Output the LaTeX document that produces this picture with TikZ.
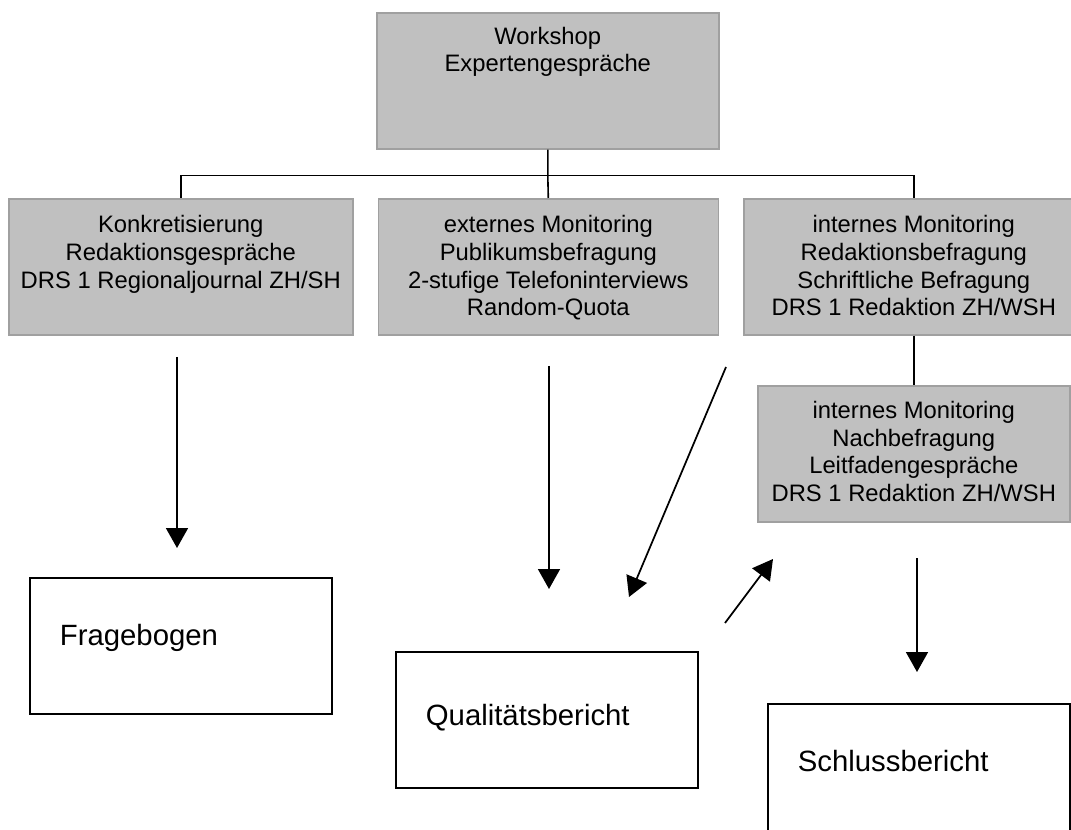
\documentclass[tikz,border=0pt]{standalone}
\usepackage{fontspec}
\setmainfont{Liberation Sans}
\usetikzlibrary{positioning, arrows.meta}
\definecolor{boxgray}{HTML}{C0C0C0}
\definecolor{edgegray}{HTML}{A0A0A0}
\tikzset{graybox/.style={draw=edgegray, fill=boxgray, line width=1.2pt, minimum height=102pt, inner sep=0pt}, % shaded method boxes
boxtext/.style={align=center, inner sep=0pt, font=\fontsize{17.85pt}{20.7pt}\selectfont}, % text hangs from the top of a box
whitebox/.style={draw, line width=1.3pt, align=left, text width=181.5pt, inner xsep=22.5pt, inner ysep=0pt, text height=51pt, text depth=51pt, font=\fontsize{22pt}{26pt}\selectfont}, % report boxes
link/.style={line width=1.2pt},
flow/.style={line width=1.3pt, -{Triangle[length=15pt,width=16.5pt]}}, % big filled heads
}
\begin{document}
\begin{tikzpicture}[x=0.75pt, y=-0.75pt]
  \useasboundingbox (0,0) rectangle (1071,830);

  \node[graybox, anchor=north west, minimum width=256.5pt] (ws) at (376,12) {};
  \node[graybox, anchor=north west, minimum width=258pt] (konk) at (8,198) {};
  \node[graybox, anchor=north west, minimum width=255pt] (ext) at (377.5,198) {};
  \node[graybox, anchor=north west, minimum width=255pt] (intern) at (743,198) {};
  \node[graybox, anchor=north west, minimum width=234pt] (nach) at (757,385) {};

  \node[boxtext, below=11pt of ws.north] (wstext) {Workshop\\Expertengespräche};
  \node[boxtext, below=13pt of konk.north] (konktext) {Konkretisierung\\Redaktionsgespräche\\DRS 1 Regionaljournal ZH/SH};
  \node[boxtext, below=13pt of ext.north] (exttext) {externes Monitoring\\Publikumsbefragung\\2-stufige Telefoninterviews\\Random-Quota};
  \node[boxtext, below=13pt of intern.north] (interntext) {internes Monitoring\\Redaktionsbefragung\\Schriftliche Befragung\\DRS 1 Redaktion ZH/WSH};
  \node[boxtext, below=12pt of nach.north] (nachtext) {internes Monitoring\\Nachbefragung\\Leitfadengespräche\\DRS 1 Redaktion ZH/WSH};

  \node[whitebox, anchor=north west] (frage) at (29,577) {Fragebogen};
  \node[whitebox, anchor=north west, text height=55.5pt, text depth=46.5pt] (quali) at (395,651) {Qualitätsbericht};
  \node[whitebox, anchor=north west] (schluss) at (767,703) {Schlussbericht};

  % tree lines
  \coordinate[below=19.5pt of ws.south] (bus);
  \draw[link] (ws.south) -- (bus) -- (ext.north);
  \draw[link] (konk.north) |- (bus) -| (intern.north);
  \draw[link] (intern.south) -- (nach.north);

  % free arrows
  \coordinate (a1) at (177,357);  \coordinate (a1e) at (177,548);
  \coordinate (a2) at (549,366);  \coordinate (a2e) at (549,589);
  \coordinate (a3) at (726,367);  \coordinate (a3e) at (629,597);
  \coordinate (a4) at (725,623);  \coordinate (a4e) at (773,559);
  \coordinate (a5) at (917,558);  \coordinate (a5e) at (917,672);
  \draw[flow] (a1) -- (a1e);
  \draw[flow] (a2) -- (a2e);
  \draw[flow] (a3) -- (a3e);
  \draw[flow] (a4) -- (a4e);
  \draw[flow] (a5) -- (a5e);

\end{tikzpicture}
\end{document}
